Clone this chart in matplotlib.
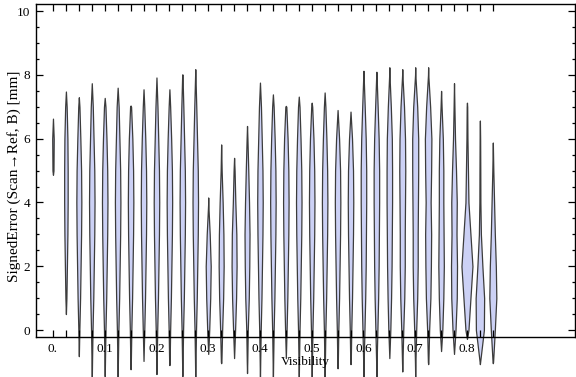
import numpy as np
import matplotlib as mpl
mpl.use('Agg')
import matplotlib.pyplot as plt
from matplotlib.ticker import MultipleLocator

# visibility value of each violin
visibility = [0.025 * i for i in range(35)]

# lowest / highest signed error of each violin [mm]
err_lo = [4.87, 0.5, -0.82, -1.6, -1.45, -1.6, -1.23, -0.97, -1.38, -1.1,
          -1.45, -1.6, -0.75, -1.04, -0.88, -1.35, -1.6, -1.6, -0.88, -1.6,
          -1.6, -1.5, -1.2, -1.07, -1.6, -1.6, -0.88, -1.3, -1.48, -1.07,
          -0.66, -0.75, -0.28, -1.07, -1.04]
err_hi = [6.63, 7.48, 7.3, 7.74, 7.28, 7.6, 7.04, 7.55, 7.92, 7.55,
          8.02, 8.18, 4.15, 5.82, 5.4, 6.4, 7.76, 7.39, 7.03, 7.32,
          7.13, 7.45, 6.9, 6.85, 8.13, 8.1, 8.24, 8.18, 8.24, 8.24,
          7.5, 7.74, 7.13, 6.57, 5.88]

# density (relative width) of each violin at error levels -1, 0, 1, ... 8
levels = [-1, 0, 1, 2, 3, 4, 5, 6, 7, 8]
density = [
    [0, 0, 0, 0, 0, 0, 1.0, 1.5, 0, 0],
    [0, 0, 1.0, 2.0, 3.0, 3.5, 3.5, 3.0, 1.5, 0],
    [0, 1.0, 2.5, 3.5, 4.5, 5.0, 4.5, 3.0, 1.2, 0],
    [0.5, 1.5, 3.0, 4.0, 5.0, 5.5, 5.0, 3.5, 2.0, 0],
    [0.5, 1.5, 3.0, 4.0, 5.0, 5.5, 5.0, 3.5, 1.5, 0],
    [0.5, 1.5, 3.0, 4.0, 5.0, 5.5, 5.0, 3.5, 2.0, 0],
    [0.5, 1.5, 3.0, 4.0, 5.0, 5.5, 5.0, 3.5, 1.0, 0],
    [0.5, 1.5, 3.0, 4.0, 5.0, 5.5, 5.0, 3.5, 1.5, 0],
    [0.5, 1.5, 3.0, 4.0, 5.0, 5.5, 5.0, 3.5, 2.0, 0],
    [0.5, 1.5, 3.0, 4.0, 5.0, 5.5, 5.0, 3.5, 1.5, 0],
    [0.5, 1.5, 3.0, 4.0, 5.0, 5.5, 5.0, 3.5, 2.0, 0.3],
    [0.5, 1.5, 3.0, 4.0, 5.0, 5.5, 5.0, 3.5, 2.0, 0.3],
    [0.5, 2.0, 4.0, 5.0, 3.0, 0, 0, 0, 0, 0],
    [0.5, 2.0, 4.0, 5.0, 4.5, 3.0, 1.0, 0, 0, 0],
    [0.5, 2.0, 4.0, 5.0, 4.5, 2.5, 1.0, 0, 0, 0],
    [0.5, 1.5, 3.5, 4.5, 5.0, 4.0, 2.5, 0.8, 0, 0],
    [0.5, 1.5, 3.0, 4.0, 5.0, 5.5, 5.0, 3.5, 2.0, 0],
    [0.5, 1.5, 3.0, 4.0, 5.0, 5.5, 5.0, 3.5, 1.5, 0],
    [0.5, 1.5, 3.0, 4.0, 5.0, 5.5, 5.0, 3.5, 1.0, 0],
    [0.5, 1.5, 3.0, 4.0, 5.0, 5.5, 5.0, 3.5, 1.5, 0],
    [0.5, 1.5, 3.0, 4.0, 5.0, 5.5, 5.0, 3.5, 1.0, 0],
    [0.5, 1.5, 3.0, 4.0, 5.0, 5.5, 5.0, 3.5, 1.5, 0],
    [0.5, 1.5, 3.0, 4.0, 5.0, 5.5, 5.0, 3.0, 0.8, 0],
    [0.5, 1.5, 3.0, 4.0, 5.0, 5.5, 5.0, 3.0, 0.8, 0],
    [0.5, 2.0, 3.5, 4.5, 5.0, 5.5, 5.5, 4.5, 2.5, 0.3],
    [0.5, 2.0, 3.5, 4.5, 5.0, 5.5, 5.5, 4.5, 2.5, 0.3],
    [0.5, 2.0, 3.5, 4.5, 5.0, 5.5, 5.5, 5.0, 3.0, 0.3],
    [0.5, 2.0, 4.0, 5.0, 5.0, 5.5, 6.0, 5.5, 3.5, 0.3],
    [0.5, 2.0, 4.0, 5.0, 5.0, 5.5, 6.0, 6.0, 4.0, 0.3],
    [0.5, 2.0, 4.5, 5.5, 6.0, 5.0, 6.0, 6.5, 4.0, 0.3],
    [0.5, 2.5, 4.5, 5.5, 5.0, 4.5, 4.5, 3.5, 1.0, 0],
    [0.5, 3.0, 5.5, 6.0, 5.0, 5.5, 4.0, 2.0, 0.8, 0],
    [0, 3.0, 7.0, 11.0, 7.0, 3.0, 2.0, 1.0, 0.5, 0],
    [0.5, 8.0, 8.5, 5.0, 2.0, 1.0, 0.8, 0.5, 0, 0],
    [0.5, 4.0, 7.0, 6.0, 4.0, 2.5, 1.0, 0.5, 0, 0],
]

fig = plt.figure(figsize=(5.76, 3.77), dpi=100)
ax = fig.add_axes([0.0625, 0.106, 0.9355, 0.883])
serif = ['Liberation Serif', 'DejaVu Serif']

px_per_unit = 517.6  # horizontal pixels per visibility unit

stats = []
widths = []
for lo, hi, dens in zip(err_lo, err_hi, density):
    coords = [lo]
    vals = [0.0]
    for lev, d in zip(levels, dens):
        if lo < lev < hi:
            coords.append(lev)
            vals.append(d)
    coords.append(hi)
    vals.append(0.0)
    vals = np.array(vals)
    stats.append(dict(coords=np.array(coords), vals=vals, mean=np.mean(coords),
                      median=np.median(coords), min=lo, max=hi))
    widths.append(vals.max() / px_per_unit)

parts = ax.violin(stats, positions=visibility, widths=widths,
                  showmeans=False, showextrema=False, showmedians=False)
for body in parts['bodies']:
    body.set_facecolor('#ccd1f5')
    body.set_edgecolor('#3c3c3c')
    body.set_linewidth(0.9)
    body.set_alpha(1)
    body.set_clip_on(False)

ax.set_xlim(-0.0328, 1.0085)
ax.set_ylim(-0.22, 10.22)

ax.set_xticks(visibility)
ax.set_xticklabels(['0.' if i == 0 else ('%.1f' % v if i % 4 == 0 else '')
                    for i, v in enumerate(visibility)])
ax.yaxis.set_major_locator(MultipleLocator(2))
ax.yaxis.set_minor_locator(MultipleLocator(0.5))
ax.tick_params(which='both', direction='in', top=True, right=True,
               labelsize=9.5, width=0.9)
ax.tick_params(which='major', length=5, pad=4)
ax.tick_params(which='minor', length=2.5)
for lab in ax.get_xticklabels() + ax.get_yticklabels():
    lab.set_family(serif)
for sp in ax.spines.values():
    sp.set_linewidth(1.0)

ax.set_xlabel('Visibility', family=serif, fontsize=9.5, labelpad=1)
ax.set_ylabel('SignedError (Scan\u2192Ref, B) [mm]', family=serif, fontsize=11,
              va='center')
ax.yaxis.set_label_coords(-0.041, 0.483)

fig.savefig('out.png', dpi=100)
